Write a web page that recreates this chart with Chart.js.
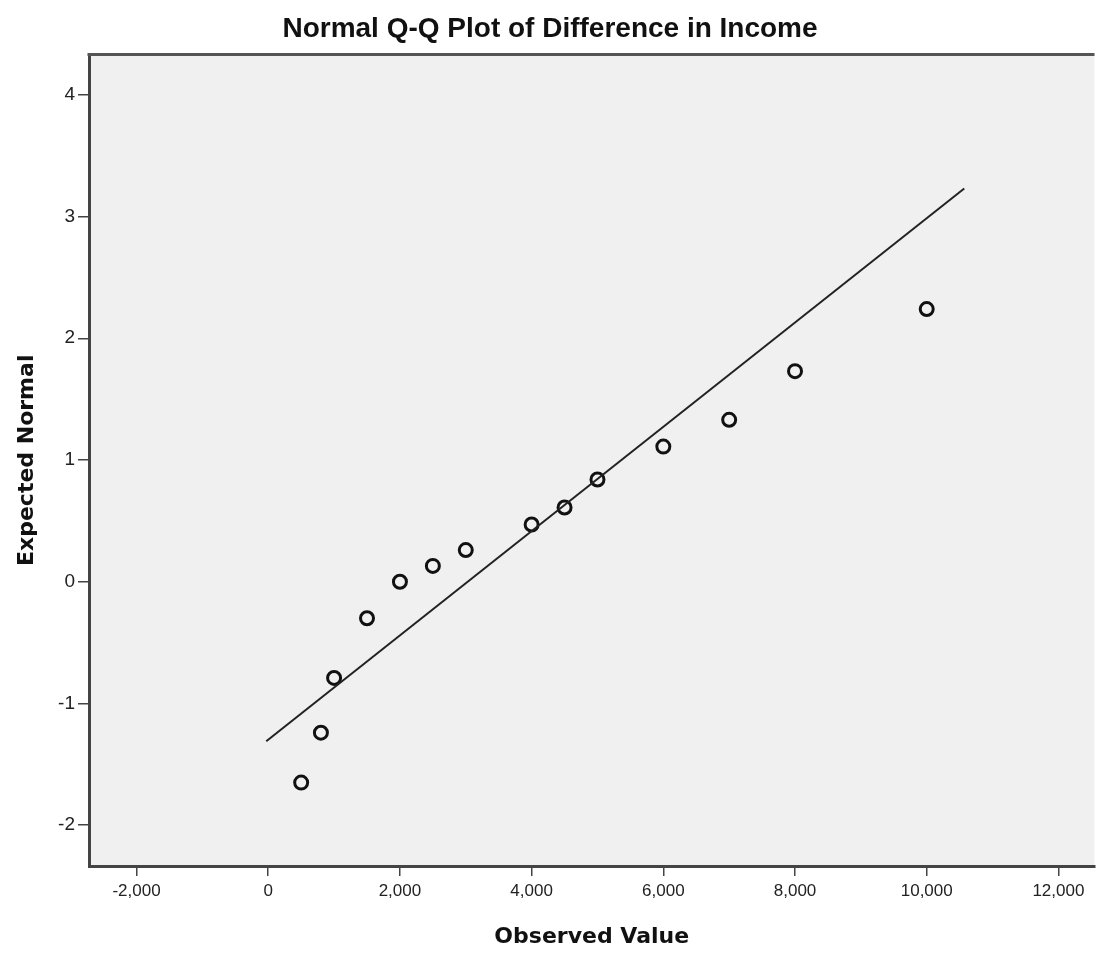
<!DOCTYPE html>
<html>
<head>
<meta charset="utf-8">
<title>Normal Q-Q Plot of Difference in Income</title>
<script src="https://cdn.jsdelivr.net/npm/chart.js@4.4.1/dist/chart.umd.min.js"></script>
<style>
  html, body { margin: 0; padding: 0; background: #fff; }
  #wrap { width: 1104px; height: 955px; position: relative; }
</style>
</head>
<body>
<div id="wrap"><canvas id="qqChart"></canvas></div>
<script>
// Data
const observed = [500, 800, 1000, 1500, 2000, 2500, 3000, 4000, 4500, 5000, 6000, 7000, 8000, 10000];
const expected = [-1.65, -1.24, -0.79, -0.30, 0.00, 0.13, 0.26, 0.47, 0.61, 0.84, 1.11, 1.33, 1.73, 2.24];

// Reference line end points
const lineX = [-30, 10570];
const lineY = [-1.31, 3.23];

// Tick labels
const xTicks = [-2000, 0, 2000, 4000, 6000, 8000, 10000, 12000];
const yTicks = [-2, -1, 0, 1, 2, 3, 4];

const labelFont = "'Liberation Sans', Arial, sans-serif";
const titleFont = "'DejaVu Sans', Verdana, sans-serif";

// Grey plot background and top frame line
const plotFrame = {
    id: 'plotFrame',
    beforeDraw(chart) {
        const {ctx, chartArea} = chart;
        ctx.save();
        ctx.fillStyle = '#f0f0f0';
        ctx.fillRect(chartArea.left, chartArea.top, chartArea.right - chartArea.left, chartArea.bottom - chartArea.top);
        ctx.restore();
    },
    afterDraw(chart) {
        const {ctx, chartArea} = chart;
        ctx.save();
        ctx.strokeStyle = '#555';
        ctx.lineWidth = 3;
        ctx.beginPath();
        ctx.moveTo(chartArea.left - 1.5, chartArea.top);
        ctx.lineTo(chartArea.right, chartArea.top);
        ctx.stroke();
        ctx.restore();
    }
};

function initializeQQChart() {
    const context = document.getElementById('qqChart').getContext('2d');
    new Chart(context, {
        type: 'scatter',
        data: {
            datasets: [{
                type: 'line',
                data: lineX.map((x, i) => ({x: x, y: lineY[i]})),
                borderColor: '#222',
                borderWidth: 2,
                pointRadius: 0,
                fill: false
            }, {
                data: observed.map((x, i) => ({x: x, y: expected[i]})),
                pointStyle: 'circle',
                pointRadius: 6.5,
                pointBorderWidth: 3,
                pointBorderColor: '#111',
                pointBackgroundColor: 'rgba(0,0,0,0)'
            }]
        },
        options: {
            responsive: true,
            maintainAspectRatio: false,
            animation: false,
            layout: { padding: { right: 4 } },
            plugins: {
                legend: { display: false },
                tooltip: { enabled: false },
                title: {
                    display: true,
                    text: 'Normal Q-Q Plot of Difference in Income',
                    color: '#111',
                    font: { family: labelFont, size: 28, weight: 'bold' },
                    padding: { top: 12, bottom: 9 }
                }
            },
            scales: {
                x: {
                    type: 'linear',
                    min: -2722,
                    max: 12548,
                    afterBuildTicks: function(scale) {
                        scale.ticks = xTicks.map(v => ({value: v}));
                    },
                    afterFit: function(scale) { scale.height = 89; },
                    grid: { drawOnChartArea: false, drawTicks: true, tickLength: 10, color: '#444', lineWidth: 1.5 },
                    border: { display: true, color: '#444', width: 3 },
                    ticks: {
                        color: '#222',
                        padding: 5,
                        maxRotation: 0,
                        font: { family: labelFont, size: 17 },
                        callback: function(value) { return value.toLocaleString('en-US'); }
                    },
                    title: {
                        display: true,
                        text: 'Observed Value',
                        color: '#111',
                        font: { family: titleFont, size: 22, weight: 'bold' },
                        padding: { top: 0, bottom: 5 }
                    }
                },
                y: {
                    type: 'linear',
                    min: -2.335,
                    max: 4.33,
                    afterBuildTicks: function(scale) {
                        scale.ticks = yTicks.map(v => ({value: v}));
                    },
                    afterFit: function(scale) { scale.width = 89; },
                    grid: { drawOnChartArea: false, drawTicks: true, tickLength: 11, color: '#444', lineWidth: 1.5 },
                    border: { display: true, color: '#444', width: 3 },
                    ticks: {
                        color: '#222',
                        padding: 3,
                        font: { family: labelFont, size: 19 },
                        callback: function(value) { return String(value); }
                    },
                    title: {
                        display: true,
                        text: 'Expected Normal',
                        color: '#111',
                        font: { family: titleFont, size: 22, weight: 'bold' },
                        padding: { top: 14, bottom: 0 }
                    }
                }
            }
        },
        plugins: [plotFrame]
    });
}

initializeQQChart();
</script>
</body>
</html>
